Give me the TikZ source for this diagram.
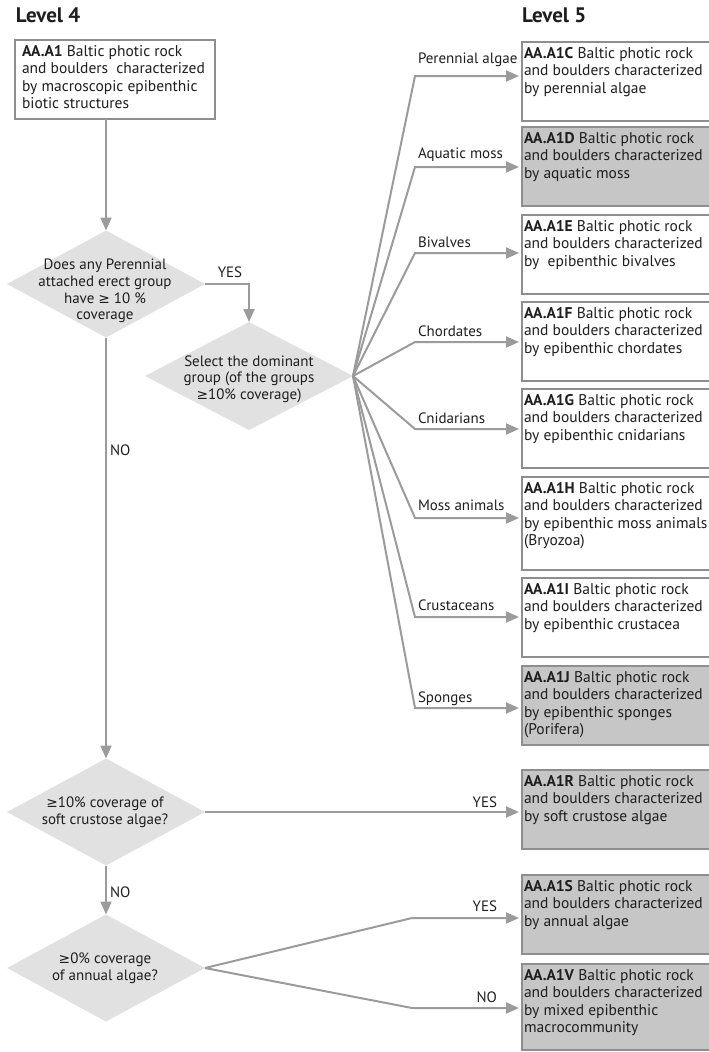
\documentclass[tikz,border=0pt]{standalone}
\usepackage{fontspec}
\setmainfont{PT Sans}
\newfontfamily\symf[Scale=0.92]{DejaVu Sans}
\newcommand\gsign{{\symf ≥}}
\usetikzlibrary{shapes.geometric,arrows.meta}

\definecolor{flow}{HTML}{9B9B9B}
\definecolor{edge}{HTML}{8E8E8E}
\definecolor{shade}{HTML}{C6C6C6}
\definecolor{dfill}{HTML}{E1E1E1}
\definecolor{ink}{HTML}{1E1E1E}

\begin{document}
\begin{tikzpicture}[x=1pt,y=-1pt,
  every node/.style={inner sep=0pt, outer sep=0pt, text=ink},
  lvl/.style={font=\bfseries\fontsize{21}{25}\selectfont, anchor=base west},
  body/.style={font=\fontsize{15.5}{17.5}\selectfont, align=left, anchor=north west},
  qtext/.style={font=\fontsize{15}{16.6}\selectfont, align=center},
  tag/.style={font=\fontsize{15}{17}\selectfont, anchor=base west},
  ans/.style={font=\fontsize{15}{17}\selectfont},
  box/.style={draw=edge, line width=1.1pt, fill=white, minimum width=200pt,
              minimum height=79pt, anchor=north west},
  hibox/.style={box, fill=shade},
  dia/.style={diamond, fill=dfill, minimum width=198pt, minimum height=107pt},
  flowline/.style={draw=flow, line width=2pt},
  flowarrow/.style={flowline, -{Triangle[length=13pt,width=11pt]}},
]
\clip (0,0) rectangle (709,1052);

% column headings
\node[lvl] (L4) at (16,23) {Level 4};
\node[lvl] (L5) at (522,23) {Level 5};

% level 4 start box
\node[box] (A1) at (15,40) {};
\node[body] (A1t) at (22,45) {\textbf{AA.A1} Baltic photic rock\\and boulders\ \ characterized\\by macroscopic epibenthic\\biotic structures};

% decision diamonds
\node[dia] (d1) at (106,284) {};
\node[qtext] (d1t) at (105,291) {Does any Perennial\\attached erect group\\have \gsign{} 10 \%\\coverage};
\node[dia, minimum width=208pt, minimum height=108pt] (d2) at (249,376) {};
\node[qtext] (d2t) at (249,379) {Select the dominant\\group (of the groups\\\gsign10\% coverage)};
\node[dia] (d3) at (106,812) {};
\node[qtext] (d3t) at (105,812) {\gsign10\% coverage of\\soft crustose algae?};
\node[dia] (d4) at (106,968) {};
\node[qtext] (d4t) at (105,968) {\gsign0\% coverage\\of annual algae?};

% level 5 boxes
\node[box] (C) at (522,42) {};
\node[body] (Ct) at (524,47) {\textbf{AA.A1C} Baltic photic rock\\and boulders characterized\\by perennial algae};
\node[hibox] (D) at (522,127) {};
\node[body] (Dt) at (524,132) {\textbf{AA.A1D} Baltic photic rock\\and boulders characterized\\by aquatic moss};
\node[box] (E) at (522,215) {};
\node[body] (Et) at (524,220) {\textbf{AA.A1E} Baltic photic rock\\and boulders characterized\\by\ \ epibenthic bivalves};
\node[box] (F) at (522,302) {};
\node[body] (Ft) at (524,307) {\textbf{AA.A1F} Baltic photic rock\\and boulders characterized\\by epibenthic chordates};
\node[box] (G) at (522,389) {};
\node[body] (Gt) at (524,394) {\textbf{AA.A1G} Baltic photic rock\\and boulders characterized\\by epibenthic cnidarians};
\node[box, minimum height=93pt] (H) at (522,477) {};
\node[body] (Ht) at (524,482) {\textbf{AA.A1H} Baltic photic rock\\and boulders characterized\\by epibenthic moss animals\\(Bryozoa)};
\node[box] (I) at (522,578) {};
\node[body] (It) at (524,583) {\textbf{AA.A1I} Baltic photic rock\\and boulders characterized\\by epibenthic crustacea};
\node[hibox] (J) at (522,666) {};
\node[body] (Jt) at (524,671) {\textbf{AA.A1J} Baltic photic rock\\and boulders characterized\\by epibenthic sponges\\(Porifera)};
\node[hibox] (R) at (522,770) {};
\node[body] (Rt) at (524,775) {\textbf{AA.A1R} Baltic photic rock\\and boulders characterized\\by soft crustose algae};
\node[hibox] (S) at (522,875) {};
\node[body] (St) at (524,880) {\textbf{AA.A1S} Baltic photic rock\\and boulders characterized\\by annual algae};
\node[hibox, minimum height=86pt] (V) at (522,964) {};
\node[body] (Vt) at (524,969) {\textbf{AA.A1V} Baltic photic rock\\and boulders characterized\\by mixed epibenthic\\macrocommunity};

% main flow
\draw[flowarrow] (A1.south -| d1.north) -- (d1.north);
\draw[flowarrow] (d1.east) -- (d1.east -| d2.north) -- (d2.north);
\node[ans, anchor=base] (y1) at (230,277) {YES};
\draw[flowarrow] (d1.south) -- (d3.north);
\node[ans, anchor=base west] (n1) at (110,455) {NO};
\draw[flowarrow] (d3.south) -- (d4.north);
\node[ans, anchor=base west] (n2) at (110,897) {NO};

% fan of dominant groups
\foreach \tgt/\yy/\ty/\lbl in {C/76/63/Perennial algae, D/167/158/Aquatic moss,
    E/253/247/Bivalves, F/342/336/Chordates, G/429/423/Cnidarians,
    H/518/510/Moss animals, I/617/610/Crustaceans, J/708/702/Sponges}{
  \coordinate (b\tgt) at (415,\yy);
  \draw[flowarrow, shorten >=3pt] (d2.east) -- (b\tgt) -- (b\tgt -| \tgt.west);
  \node[tag] (l\tgt) at (418,\ty) {\lbl};
}

% crustose and annual algae branches
\draw[flowarrow, shorten >=3pt] (d3.east) -- (d3.east -| R.west);
\node[ans, anchor=base east] (y2) at (497,807) {YES};
\coordinate (bS) at (412,918);
\draw[flowarrow, shorten >=3pt] (d4.east) -- (bS) -- (bS -| S.west);
\node[ans, anchor=base east] (y3) at (497,911) {YES};
\coordinate (bV) at (412,1008);
\draw[flowarrow, shorten >=3pt] (d4.east) -- (bV) -- (bV -| V.west);
\node[ans, anchor=base east] (n3) at (497,1002) {NO};
\end{tikzpicture}
\end{document}
